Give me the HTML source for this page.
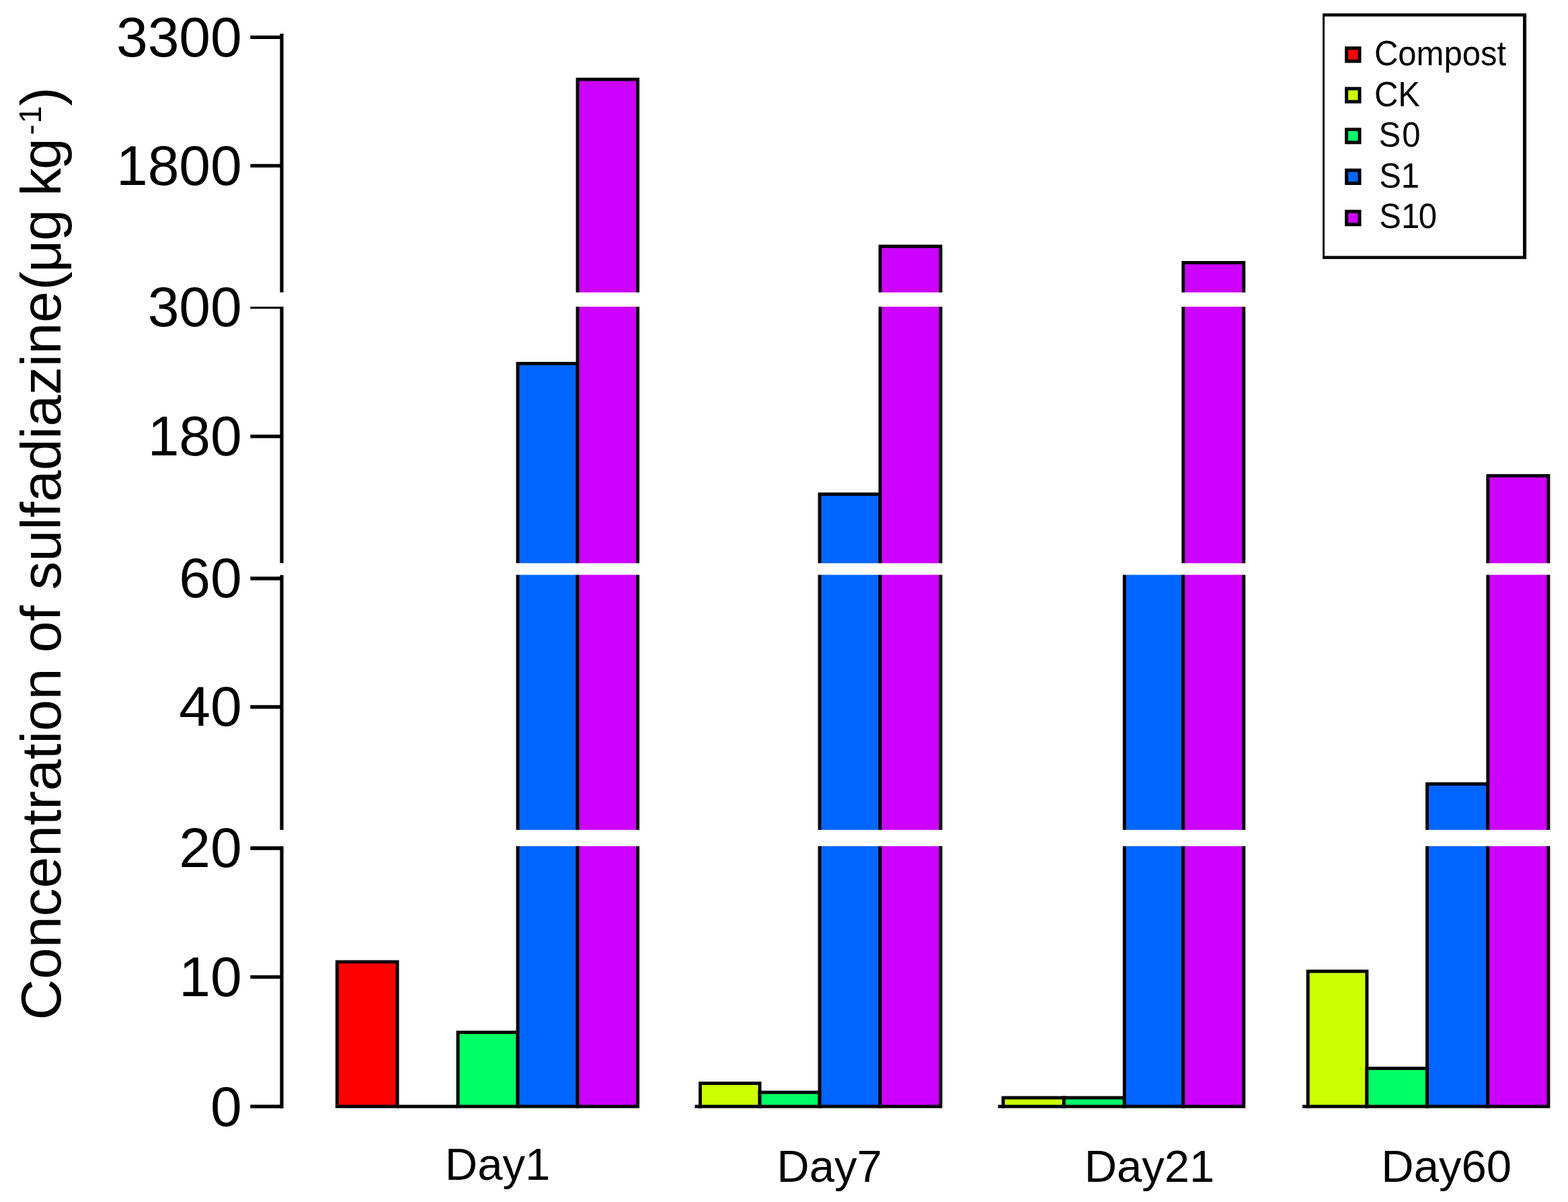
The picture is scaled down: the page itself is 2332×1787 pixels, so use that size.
<!DOCTYPE html>
<html lang="en"><head><meta charset="utf-8"><title>Concentration of sulfadiazine</title>
<style>html,body{margin:0;padding:0;background:#fff;}body{width:2332px;height:1787px;overflow:hidden;}svg{display:block;}text{font-family:"Liberation Sans",sans-serif;fill:#000;}</style>
</head><body>
<svg width="2332" height="1787" viewBox="0 0 2332 1787">
<rect x="0" y="0" width="2332" height="1787" fill="#fff"/>
<g stroke="#000" stroke-width="4.90" stroke-linejoin="miter">
<rect x="501.3" y="1430.0" width="89.7" height="215.0" fill="#FF0000"/>
<rect x="681.0" y="1534.8" width="89.0" height="110.2" fill="#00FF66"/>
<rect x="770.0" y="540.5" width="89.0" height="1104.5" fill="#0066FF"/>
<rect x="859.0" y="118.0" width="89.5" height="1527.0" fill="#CC00FF"/>
<rect x="1041.4" y="1610.5" width="88.6" height="34.5" fill="#CCFF00"/>
<rect x="1130.0" y="1624.0" width="89.0" height="21.0" fill="#00FF66"/>
<rect x="1219.0" y="734.7" width="90.0" height="910.3" fill="#0066FF"/>
<rect x="1309.0" y="366.2" width="90.0" height="1278.8" fill="#CC00FF"/>
<rect x="1492.0" y="1632.0" width="90.3" height="13.0" fill="#CCFF00"/>
<rect x="1582.3" y="1632.0" width="90.0" height="13.0" fill="#00FF66"/>
<rect x="1672.3" y="846.0" width="87.5" height="799.0" fill="#0066FF"/>
<rect x="1759.8" y="390.5" width="90.0" height="1254.5" fill="#CC00FF"/>
<rect x="1945.2" y="1444.0" width="87.7" height="201.0" fill="#CCFF00"/>
<rect x="2032.9" y="1588.3" width="89.6" height="56.7" fill="#00FF66"/>
<rect x="2122.5" y="1165.5" width="90.3" height="479.5" fill="#0066FF"/>
<rect x="2212.8" y="707.3" width="90.1" height="937.7" fill="#CC00FF"/>
<line x1="591" y1="1645.0" x2="681" y2="1645.0"/>
<line x1="1033.4" y1="1645.0" x2="1044.0" y2="1645.0"/>
<line x1="1484.4" y1="1645.0" x2="1494.0" y2="1645.0"/>
<line x1="1936.9" y1="1645.0" x2="1947.0" y2="1645.0"/>
</g>
<rect x="440" y="434.7" width="1892" height="21.3" fill="#fff"/>
<rect x="440" y="837.3" width="1892" height="17.3" fill="#fff"/>
<rect x="440" y="1233.8" width="1892" height="24.2" fill="#fff"/>
<g fill="#000">
<rect x="416.4" y="50.0" width="5.2" height="384.6"/>
<rect x="416.4" y="455.9" width="5.2" height="381.3"/>
<rect x="416.4" y="854.9" width="5.2" height="378.9"/>
<rect x="416.4" y="1258.2" width="5.2" height="389.5"/>
<rect x="372.3" y="52.8" width="46.7" height="5.2"/>
<rect x="372.3" y="243.8" width="46.7" height="5.2"/>
<rect x="372.3" y="455.9" width="46.7" height="3.1"/>
<rect x="372.3" y="646.2" width="46.7" height="5.2"/>
<rect x="372.3" y="857.3" width="46.7" height="5.4"/>
<rect x="372.3" y="1048.3" width="46.7" height="5.4"/>
<rect x="372.3" y="1258.2" width="46.7" height="5.6"/>
<rect x="372.3" y="1449.9" width="46.7" height="5.2"/>
<rect x="372.3" y="1642.4" width="46.7" height="5.2"/>
</g>
<g font-size="84.0" text-anchor="end">
<text x="359.8" y="83.8">3300</text>
<text x="359.8" y="274.9">1800</text>
<text x="359.8" y="484.8">300</text>
<text x="359.8" y="676.9">180</text>
<text x="359.8" y="887.6">60</text>
<text x="359.8" y="1079.2">40</text>
<text x="359.8" y="1289.3">20</text>
<text x="359.8" y="1481.2">10</text>
<text x="359.8" y="1673.7">0</text>
</g>
<g font-size="67" text-anchor="middle">
<text x="740.0" y="1754.0">Day1</text>
<text x="1233.5" y="1757.0">Day7</text>
<text x="1709.5" y="1757.0">Day21</text>
<text x="2151.2" y="1757.0">Day60</text>
</g>
<text font-size="84" transform="translate(89.6,1516.5) rotate(-90)"><tspan x="0" y="0">Concentration of sulfadiazine</tspan><tspan x="1084.9">(</tspan><tspan x="1111.4 1158.5">μg</tspan><tspan x="1200"> </tspan><tspan x="1224.8 1264.5">kg</tspan><tspan font-size="47" x="1315.8 1333.1" y="-29">-1</tspan><tspan x="1359" y="0">)</tspan></text>
<g fill="#000"><rect x="1967" y="19.9" width="303.1" height="365.2"/></g>
<rect x="1970" y="24.5" width="295" height="356" fill="#fff"/>
<g stroke="#000" stroke-width="5">
<rect x="2002.6" y="71.6" width="19.4" height="19.4" fill="#FF0000"/>
<rect x="2002.6" y="131.8" width="19.4" height="19.4" fill="#CCFF00"/>
<rect x="2002.6" y="192.4" width="19.4" height="19.4" fill="#00FF66"/>
<rect x="2002.6" y="253.1" width="19.4" height="19.4" fill="#0066FF"/>
<rect x="2002.6" y="314.4" width="19.4" height="19.4" fill="#CC00FF"/>
</g>
<g font-size="49">
<text transform="translate(2044.0,96.5) scale(1,1.05)">Compost</text>
<text transform="translate(2044.0,157.5) scale(1,1.05)">CK</text>
<text transform="translate(2050.4,218.3) scale(1,1.05)" dx="0 2.3">S0</text>
<text transform="translate(2051.2,279.0) scale(1,1.05)">S1</text>
<text transform="translate(2051.3,339.0) scale(1,1.05)" dx="0 0 -1.5">S10</text>
</g>
</svg>
</body></html>
